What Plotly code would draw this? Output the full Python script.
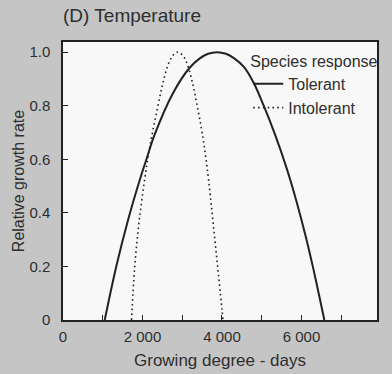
import plotly.graph_objects as go

# Data
tolerant_x = [1050, 1340, 1630, 1925, 2110, 2300, 2760, 3175, 3425, 3650, 3875, 4100,
              4300, 4550, 4800, 5050, 5340, 5630, 5880, 6110, 6300, 6490, 6575]
tolerant_y = [0, 0.20, 0.37, 0.52, 0.605, 0.69, 0.845, 0.94, 0.975, 0.994, 1.0, 0.994,
              0.978, 0.945, 0.885, 0.80, 0.69, 0.565, 0.44, 0.31, 0.19, 0.06, 0]

intolerant_x = [1725, 1800, 1925, 2100, 2225, 2375, 2500, 2625, 2750, 2875, 3000, 3100,
                3250, 3375, 3500, 3625, 3800, 3925, 4000, 4025]
intolerant_y = [0, 0.19, 0.38, 0.57, 0.68, 0.79, 0.876, 0.945, 0.985, 1.0, 0.99, 0.966,
                0.89, 0.80, 0.70, 0.57, 0.33, 0.15, 0.04, 0]

x_tickvals = [0, 2000, 4000, 6000]
x_ticktext = ["0", "2 000", "4 000", "6 000"]
y_tickvals = [0, 0.2, 0.4, 0.6, 0.8, 1.0]
y_ticktext = ["0", "0.2", "0.4", "0.6", "0.8", "1.0"]

FONT = "Liberation Sans, Arial, sans-serif"
TXT = "#2e2e2e"
LINE = "#222222"

fig = go.Figure()
fig.add_trace(go.Scatter(x=tolerant_x, y=tolerant_y, mode="lines", name="Tolerant",
                         line=dict(color=LINE, width=2, shape="spline", smoothing=1)))
fig.add_trace(go.Scatter(x=intolerant_x, y=intolerant_y, mode="lines", name="Intolerant",
                         line=dict(color=LINE, width=1.6, dash="1.6px,3.2px",
                                   shape="spline", smoothing=1)))

fig.update_layout(
    width=392, height=374,
    margin=dict(l=63, r=13, t=42, b=54),
    paper_bgcolor="#c5c5c5",
    plot_bgcolor="#f8f8f8",
    font=dict(family=FONT, size=15, color=TXT),
    title=dict(text="(D) Temperature", x=63/392, xanchor="left", xref="container",
               y=1 - 15/374, yanchor="middle", yref="container",
               font=dict(size=19, color=TXT)),
    showlegend=True,
    legend=dict(x=0.59, y=0.985, xanchor="left", yanchor="top",
                bgcolor="rgba(0,0,0,0)", borderwidth=0,
                title=dict(text="Species response", font=dict(size=16, color=TXT)),
                font=dict(size=16, color=TXT), tracegroupgap=0),
    xaxis=dict(range=[0, 7900], tickvals=x_tickvals, ticktext=x_ticktext,
               ticks="inside", ticklen=5, tickwidth=1.3, tickcolor=LINE,
               minor=dict(dtick=1000, tick0=0, ticks="inside", ticklen=5,
                          tickwidth=1.3, tickcolor=LINE),
               showline=True, linecolor=LINE, linewidth=1.5, mirror=True,
               showgrid=False, zeroline=False, automargin=False,
               tickfont=dict(size=15, color=TXT), ticklabelstandoff=2,
               title=dict(text="Growing degree - days", font=dict(size=17, color=TXT),
                          standoff=10)),
    yaxis=dict(range=[0, 1.038], tickvals=y_tickvals, ticktext=y_ticktext,
               ticks="inside", ticklen=5, tickwidth=1.3, tickcolor=LINE,
               showline=True, linecolor=LINE, linewidth=1.5, mirror=True,
               showgrid=False, zeroline=False, automargin=False,
               tickfont=dict(size=15, color=TXT), ticklabelstandoff=8,
               title=dict(text="Relative growth rate", font=dict(size=16, color=TXT),
                          standoff=1)),
)

fig.write_html("out.html", config={"displayModeBar": False},
               post_script="document.body.style.margin='0';document.body.style.padding='0';")
